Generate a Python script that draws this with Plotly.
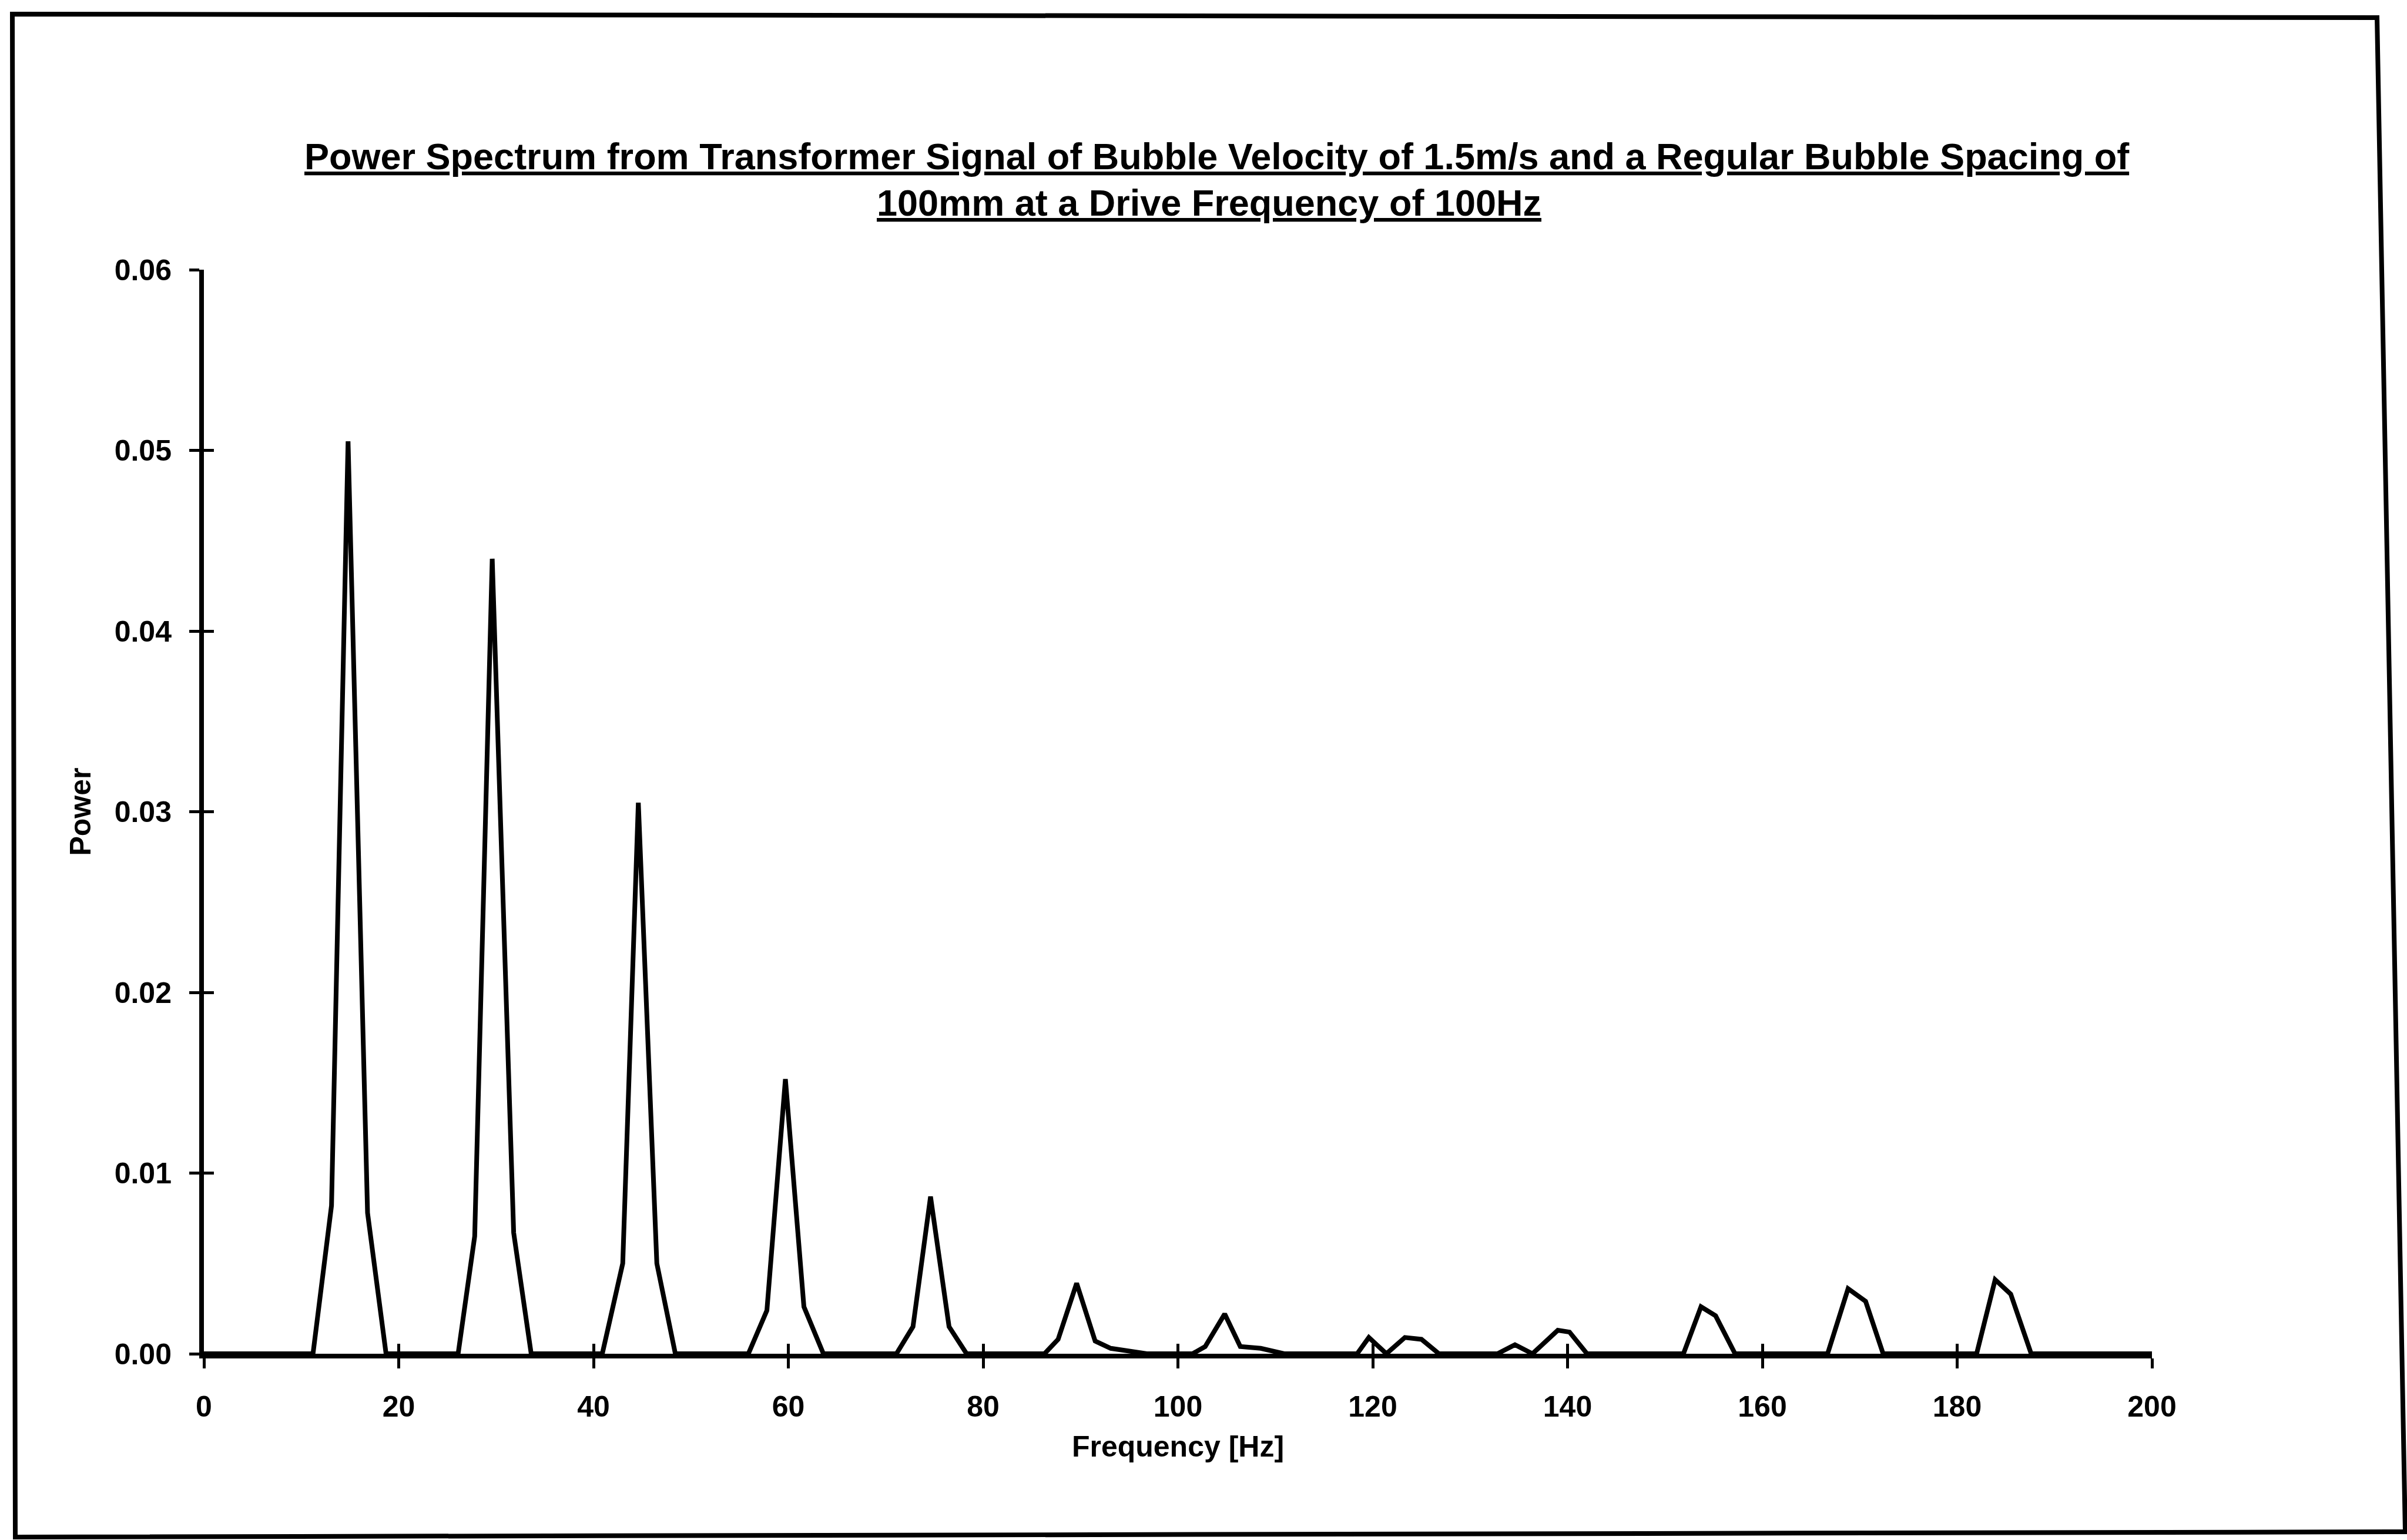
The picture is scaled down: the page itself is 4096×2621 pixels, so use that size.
import plotly.graph_objects as go

# Spectrum vertices (frequency in Hz, power)
freq_hz = [
    0.0, 11.2, 13.1, 14.8, 16.8, 18.7,
    26.1, 27.8, 29.6, 31.8, 33.6,
    40.9, 43.0, 44.6, 46.5, 48.4,
    55.9, 57.8, 59.7, 61.6, 63.6,
    71.1, 72.8, 74.6, 76.5, 78.3,
    86.3, 87.7, 89.6, 91.5, 93.1, 96.8,
    101.5, 102.8, 104.8, 106.4, 108.5, 110.9,
    118.4, 119.6, 121.4, 123.3, 125.0, 126.8,
    132.8, 134.6, 136.4, 139.0, 140.2, 142.0,
    151.9, 153.7, 155.2, 157.2,
    166.7, 168.8, 170.6, 172.4,
    182.0, 183.9, 185.5, 187.6,
    200.0,
]
power = [
    0.0, 0.0, 0.0082, 0.0505, 0.0078, 0.0,
    0.0, 0.0065, 0.0440, 0.0067, 0.0,
    0.0, 0.0050, 0.0305, 0.0050, 0.0,
    0.0, 0.0024, 0.0152, 0.0026, 0.0,
    0.0, 0.0015, 0.0087, 0.0015, 0.0,
    0.0, 0.0008, 0.0039, 0.0007, 0.0003, 0.0,
    0.0, 0.0004, 0.0022, 0.0004, 0.0003, 0.0,
    0.0, 0.0009, 0.0, 0.0009, 0.0008, 0.0,
    0.0, 0.0005, 0.0, 0.0013, 0.0012, 0.0,
    0.0, 0.0026, 0.0021, 0.0,
    0.0, 0.0036, 0.0029, 0.0,
    0.0, 0.0041, 0.0033, 0.0,
    0.0,
]

x_ticks = [0, 20, 40, 60, 80, 100, 120, 140, 160, 180, 200]
y_ticks = [0.00, 0.01, 0.02, 0.03, 0.04, 0.05, 0.06]
y_tick_text = ["0.00", "0.01", "0.02", "0.03", "0.04", "0.05", "0.06"]

title_lines = [
    "Power Spectrum from Transformer Signal of Bubble Velocity of 1.5m/s and a Regular Bubble Spacing of",
    "100mm at a Drive Frequency of 100Hz",
]
x_title = "Frequency [Hz]"
y_title = "Power"

W, H = 4096, 2621
L, R, T, B = 347, 434, 459, 317
PW, PH = W - L - R, H - T - B

LABEL_FONT = dict(family="Liberation Sans, Arial, sans-serif", size=50, color="black", weight="bold")
TITLE_FONT = dict(family="Liberation Sans, Arial, sans-serif",
                  size=63, color="black", weight="bold", lineposition="under")


def px_to_paper(px, py):
    """Page pixel -> paper coordinates of the plot area."""
    return (px - L) / PW, (H - B - py) / PH


fig = go.Figure()
fig.add_trace(go.Scatter(
    x=freq_hz, y=power, mode="lines",
    line=dict(color="black", width=8, shape="linear"),
    hoverinfo="skip", showlegend=False,
))
# empty trace that carries the inner half of the crossing tick marks
fig.add_trace(go.Scatter(x=[None], y=[None], xaxis="x2", yaxis="y2",
                         mode="lines", showlegend=False, hoverinfo="skip"))

axis_common = dict(showgrid=False, zeroline=False, tickcolor="black", tickwidth=5, ticklen=17)

fig.update_layout(
    width=W, height=H,
    margin=dict(l=L, r=R, t=T, b=B, pad=0),
    paper_bgcolor="white", plot_bgcolor="white",
    showlegend=False,
    xaxis=dict(
        range=[0, 200], tickvals=x_ticks, ticktext=[str(v) for v in x_ticks],
        ticks="outside", showline=True, linewidth=8, linecolor="black",
        tickfont=LABEL_FONT, ticklabelstandoff=22,
        title=dict(text=x_title, font=LABEL_FONT, standoff=26),
        **axis_common,
    ),
    yaxis=dict(
        range=[0, 0.06], tickvals=y_ticks, ticktext=y_tick_text,
        ticks="outside", showline=True, linewidth=8, linecolor="black",
        tickfont=LABEL_FONT, ticklabelstandoff=20,
        title=dict(text=y_title, font=LABEL_FONT, standoff=27),
        **axis_common,
    ),
    xaxis2=dict(range=[0, 200], tickvals=x_ticks, ticks="inside", overlaying="x",
                showticklabels=False, showline=False, side="bottom", **axis_common),
    yaxis2=dict(range=[0, 0.06], tickvals=y_ticks, ticks="inside", overlaying="y",
                showticklabels=False, showline=False, side="left", **axis_common),
)

# two-line underlined heading
title_pos = [(2071, 266), (2057, 345)]
for text, (tx, ty) in zip(title_lines, title_pos):
    ax, ay = px_to_paper(tx, ty)
    fig.add_annotation(text=text, x=ax, y=ay, xref="paper", yref="paper",
                       xanchor="center", yanchor="middle", showarrow=False,
                       font=TITLE_FONT)

# outer frame around the whole chart
corners = [(21, 24), (4045, 30), (4093, 2607), (26, 2616)]
pts = [px_to_paper(cx, cy) for cx, cy in corners]
path = "M " + " L ".join(f"{px:.5f},{py:.5f}" for px, py in pts) + " Z"
fig.add_shape(type="path", path=path, xref="paper", yref="paper",
              line=dict(color="black", width=8), fillcolor="rgba(0,0,0,0)", layer="above")

fig.write_html("out.html")
